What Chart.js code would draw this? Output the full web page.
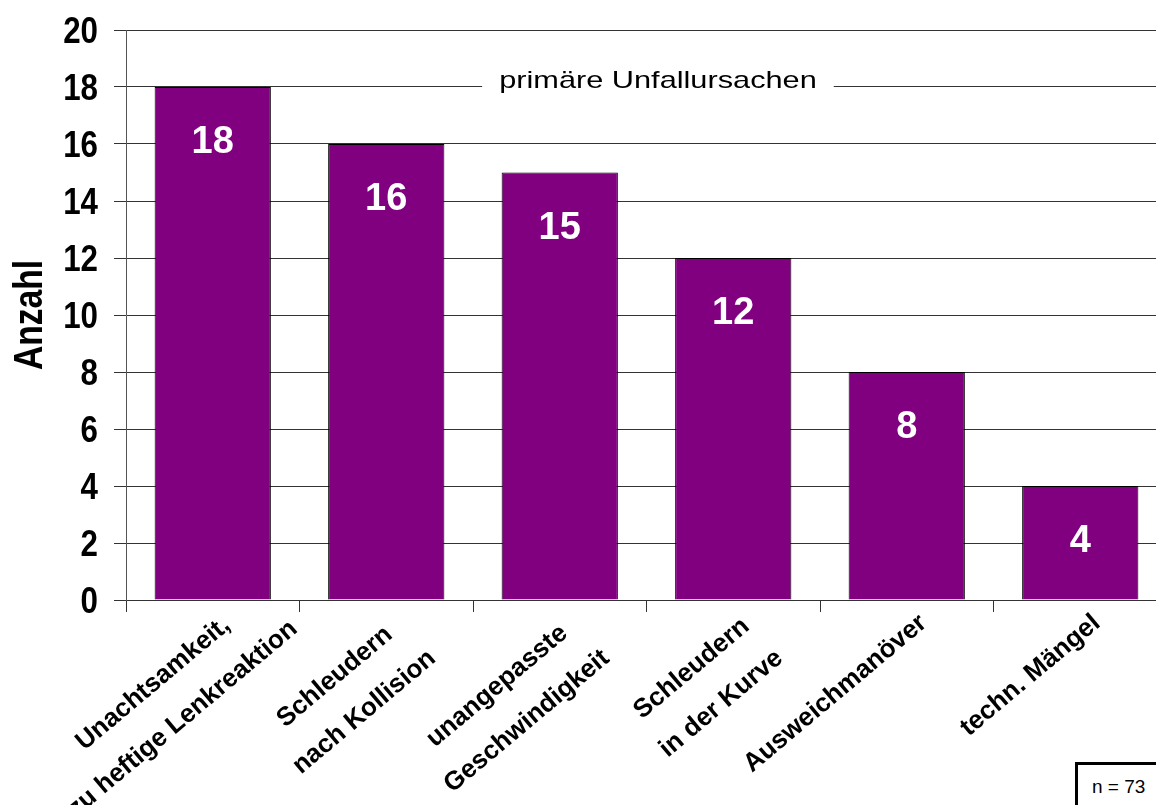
<!DOCTYPE html>
<html lang="de">
<head>
<meta charset="utf-8">
<title>primäre Unfallursachen</title>
<script src="https://cdn.jsdelivr.net/npm/chart.js@4/dist/chart.umd.min.js"></script>
<style>
  html, body { margin: 0; padding: 0; background: #fff; overflow: hidden; }
  #wrap { position: absolute; left: 0; top: 0; width: 1200px; height: 805px; }
  #nBox {
    position: absolute; left: 1075px; top: 762px; width: 100px; height: 60px;
    box-sizing: border-box; border: 3px solid #000; background: #fff;
    font: 19px "Liberation Sans", Arial, sans-serif; line-height: 19px;
    padding: 12px 0 0 14px; color: #000;
  }
</style>
</head>
<body>
<div id="wrap"><canvas id="chart" width="1200" height="805"></canvas></div>
<div id="nBox">n = 73</div>
<script>
// data
const categories = [
  ['Unachtsamkeit,', 'zu heftige Lenkreaktion'],
  ['Schleudern', 'nach Kollision'],
  ['unangepasste', 'Geschwindigkeit'],
  ['Schleudern', 'in der Kurve'],
  ['Ausweichmanöver'],
  ['techn. Mängel']
];
const counts = [18, 16, 15, 12, 8, 4];
const yTicks = [0, 2, 4, 6, 8, 10, 12, 14, 16, 18, 20];
const chartTitle = 'primäre Unfallursachen';
const yAxisTitle = 'Anzahl';

const sans = '"Liberation Sans", Arial, sans-serif';

// the original uses condensed and stretched fonts, so most text is drawn here
const annotations = {
  id: 'annotations',
  afterDatasetsDraw(chart) {
    const { ctx, chartArea, scales: { x, y } } = chart;

    // numbers inside the bars
    const meta = chart.getDatasetMeta(0);
    ctx.save();
    ctx.fillStyle = '#fff';
    ctx.font = 'bold 38px ' + sans;
    ctx.textAlign = 'center';
    ctx.textBaseline = 'middle';
    meta.data.forEach((bar, i) => ctx.fillText(String(counts[i]), bar.x, bar.y + 56));
    ctx.restore();

    // title sitting on the 18 gridline
    ctx.save();
    const ty = y.getPixelForValue(18) + 1;
    const tx = chartArea.left + chartArea.width * 0.511;
    const stretch = 1.28;
    ctx.font = '24px ' + sans;
    const tw = ctx.measureText(chartTitle).width * stretch;
    ctx.fillStyle = '#fff';
    ctx.fillRect(tx - tw / 2 - 17, ty - 26, tw + 34, 34);
    ctx.translate(tx, ty);
    ctx.scale(stretch, 1);
    ctx.fillStyle = '#000';
    ctx.textAlign = 'center';
    ctx.textBaseline = 'alphabetic';
    ctx.fillText(chartTitle, 0, 0);
    ctx.restore();

    // y tick labels, condensed bold
    ctx.save();
    ctx.font = 'bold 36px ' + sans;
    ctx.fillStyle = '#000';
    ctx.textAlign = 'right';
    ctx.textBaseline = 'alphabetic';
    yTicks.forEach(v => {
      ctx.save();
      ctx.translate(y.right - 28, y.getPixelForValue(v) + 13);
      ctx.scale(0.87, 1);
      ctx.fillText(String(v), 0, 0);
      ctx.restore();
    });
    ctx.restore();

    // y axis title
    ctx.save();
    ctx.font = 'bold 41px ' + sans;
    ctx.fillStyle = '#000';
    ctx.textAlign = 'center';
    ctx.textBaseline = 'alphabetic';
    ctx.translate(0, (chartArea.top + chartArea.bottom) / 2);
    ctx.rotate(-Math.PI / 2);
    ctx.scale(0.82, 1);
    ctx.fillText(yAxisTitle, 0, 42);
    ctx.restore();

    // category labels, lines centred, rotated 40 degrees
    const ang = 40 * Math.PI / 180;
    const c = Math.cos(ang), s = Math.sin(ang);
    const first = 33, step = 46;
    ctx.save();
    ctx.font = 'bold 26px ' + sans;
    ctx.fillStyle = '#000';
    ctx.textAlign = 'center';
    ctx.textBaseline = 'alphabetic';
    categories.forEach((lines, i) => {
      const cx = x.getPixelForValue(i);
      const cy = x.top;
      const widths = lines.map(t => ctx.measureText(t).width);
      const W = Math.max(...widths);
      const k = widths.indexOf(W);
      const leftX = cx - W * c + (first + step * k + 6) * s;
      const shift = leftX < 80 ? (80 - leftX) / c : 0;
      ctx.save();
      ctx.translate(cx, cy);
      ctx.rotate(-ang);
      lines.forEach((t, j) => ctx.fillText(t, shift - W / 2, first + step * j));
      ctx.restore();
    });
    ctx.restore();
  }
};

const ctx = document.getElementById('chart').getContext('2d');
const chart = new Chart(ctx, {
  type: 'bar',
  data: {
    labels: categories,
    datasets: [{
      label: yAxisTitle,
      data: counts,
      backgroundColor: '#800080',
      borderColor: '#000',
      borderWidth: 1,
      barPercentage: 0.67,
      categoryPercentage: 1
    }]
  },
  options: {
    responsive: false,
    animation: false,
    layout: { padding: { left: 0, top: 30, right: 33, bottom: 0 } },
    plugins: {
      legend: { display: false },
      tooltip: { enabled: false }
    },
    scales: {
      x: {
        offset: true,
        grid: { offset: true, drawOnChartArea: false, drawTicks: true, tickLength: 12, color: '#333' },
        border: { color: '#333' },
        ticks: { display: false },
        afterFit: s => { s.height = 205; }
      },
      y: {
        min: 0,
        max: 20,
        afterBuildTicks: s => { s.ticks = yTicks.map(v => ({ value: v })); },
        ticks: { display: false },
        grid: { color: '#333', tickLength: 12 },
        border: { color: '#555' },
        afterFit: s => { s.width = 126; }
      }
    }
  },
  plugins: [annotations]
});
</script>
</body>
</html>
